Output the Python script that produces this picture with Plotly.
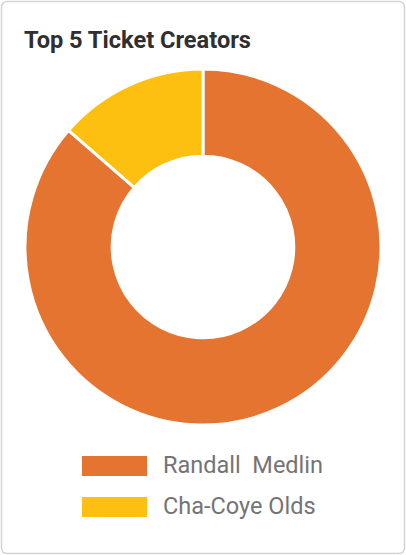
import plotly.graph_objects as go

# Data
labels = ["Randall  Medlin", "Cha-Coye Olds"]
values = [19, 3]
colors = ["#E57431", "#FEC010"]
title_text = "Top 5 Ticket Creators"

W, H = 406, 555

def px(x):
    return x / W

def py(y):
    return 1 - y / H

fig = go.Figure()
fig.add_trace(go.Pie(
    labels=labels,
    values=values,
    marker=dict(colors=colors, line=dict(color="white", width=3)),
    hole=0.51,
    sort=False,
    direction="clockwise",
    rotation=0,
    textinfo="none",
    showlegend=False,
    domain=dict(x=[0, 1], y=[py(425), py(69)]),
))

# Card border (rounded rectangle)
x0, x1, y0, y1, r = 1.5, 404.5, 1.5, 553.5, 6
path = (f"M {px(x0 + r)},{py(y0)} L {px(x1 - r)},{py(y0)} "
        f"Q {px(x1)},{py(y0)} {px(x1)},{py(y0 + r)} "
        f"L {px(x1)},{py(y1 - r)} Q {px(x1)},{py(y1)} {px(x1 - r)},{py(y1)} "
        f"L {px(x0 + r)},{py(y1)} Q {px(x0)},{py(y1)} {px(x0)},{py(y1 - r)} "
        f"L {px(x0)},{py(y0 + r)} Q {px(x0)},{py(y0)} {px(x0 + r)},{py(y0)} Z")
shapes = [dict(type="path", xref="paper", yref="paper", path=path,
               line=dict(color="#d4d4d4", width=1.5), layer="below")]

annotations = [dict(text=f"<b>{title_text}</b>", xref="paper", yref="paper",
                    x=px(21.5), y=py(40), xanchor="left", yanchor="middle",
                    showarrow=False,
                    font=dict(family="Roboto", size=23.6, color="#2f2f2f"))]

# Custom legend
leg_top = 456
row_h = 41
for i, (lab, col) in enumerate(zip(labels, colors)):
    ty = leg_top + i * row_h
    shapes.append(dict(type="rect", xref="paper", yref="paper",
                       x0=px(82), x1=px(147), y0=py(ty + 20), y1=py(ty),
                       fillcolor=col, line=dict(width=0)))
    annotations.append(dict(text=lab, xref="paper", yref="paper",
                            x=px(160.5), y=py(ty + 9), xanchor="left",
                            yanchor="middle", showarrow=False,
                            font=dict(family="Roboto", size=23.5, color="#747474")))

fig.update_layout(
    width=W, height=H,
    margin=dict(l=0, r=0, t=0, b=0),
    paper_bgcolor="white",
    plot_bgcolor="white",
    shapes=shapes,
    annotations=annotations,
)

fig.write_html(
    "out.html",
    config={"displayModeBar": False},
    post_script="document.body.style.margin='0';document.body.style.overflow='hidden';",
)
